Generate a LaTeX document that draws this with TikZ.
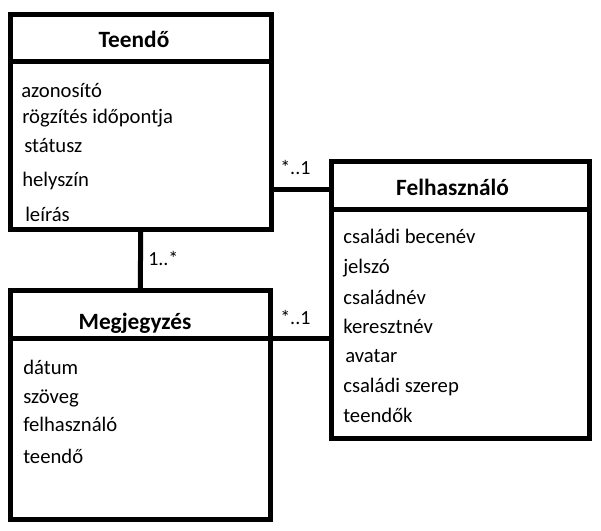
\documentclass[tikz,border=0pt]{standalone}
\usepackage{fontspec}
\setmainfont{Carlito}
\usetikzlibrary{fit}

\begin{document}
\begin{tikzpicture}[x=0.75pt,y=-0.75pt,
    box/.style={draw, line width=3.75pt, inner sep=0pt, outer sep=0pt, fit={#1}},
    title/.style={anchor=base, inner sep=0pt, font=\fontsize{17.5}{19}\selectfont\bfseries},
    item/.style={anchor=base west, inner sep=0pt, font=\fontsize{15.5}{18}\selectfont},
    mult/.style={anchor=base west, inner sep=0pt, font=\fontsize{15}{18}\selectfont},
    conn/.style={line width=3.75pt}]
    \useasboundingbox (0,0) rectangle (601,531);

    % Teendo
    \node[box={(10.5,14.5) (271,62)}] (thead) {};
    \node[box={(10.5,62) (271,230)}] (tbody) {};
    \node[title] (tname) at (134,47.5) {Teendő};
    \foreach \x/\y/\t [count=\i] in {21/98/azonosító, 22/124/rögzítés időpontja,
        24/153/státusz, 22/187/helyszín, 25/222/leírás}
      \node[item] (t\i) at (\x,\y) {\t};

    % Megjegyzes
    \node[box={(10.5,291) (270,339)}] (mhead) {};
    \node[box={(10.5,339) (270,520)}] (mbody) {};
    \node[title] (mname) at (135,329.5) {Megjegyzés};
    \foreach \y/\t [count=\i] in {375/dátum, 404/szöveg, 432/felhasználó, 464/teendő}
      \node[item] (m\i) at (23,\y) {\t};

    % Felhasznalo
    \node[box={(331,162) (589,210)}] (fhead) {};
    \node[box={(331,210) (589,439)}] (fbody) {};
    \node[title] (fname) at (452.5,195.5) {Felhasználó};
    \foreach \x/\y/\t [count=\i] in {343/244/családi becenév, 343/274/jelszó,
        343/305/családnév, 343/334/keresztnév, 345/363/avatar,
        343/393/családi szerep, 343/423/teendők}
      \node[item] (f\i) at (\x,\y) {\t};

    % kapcsolatok
    \draw[conn] (tbody.south) -- (mhead.north);
    \draw[conn] ([yshift=-3pt]fhead.west) -- ([yshift=-3pt]fhead.west -| tbody.east);
    \draw[conn] (mbody.north east) -- (mbody.north east -| fbody.west);

    \node[mult] (tm) at (148,266) {1..*};
    \node[mult] (tf) at (280,175) {*..1};
    \node[mult] (mf) at (280,325) {*..1};
\end{tikzpicture}
\end{document}
